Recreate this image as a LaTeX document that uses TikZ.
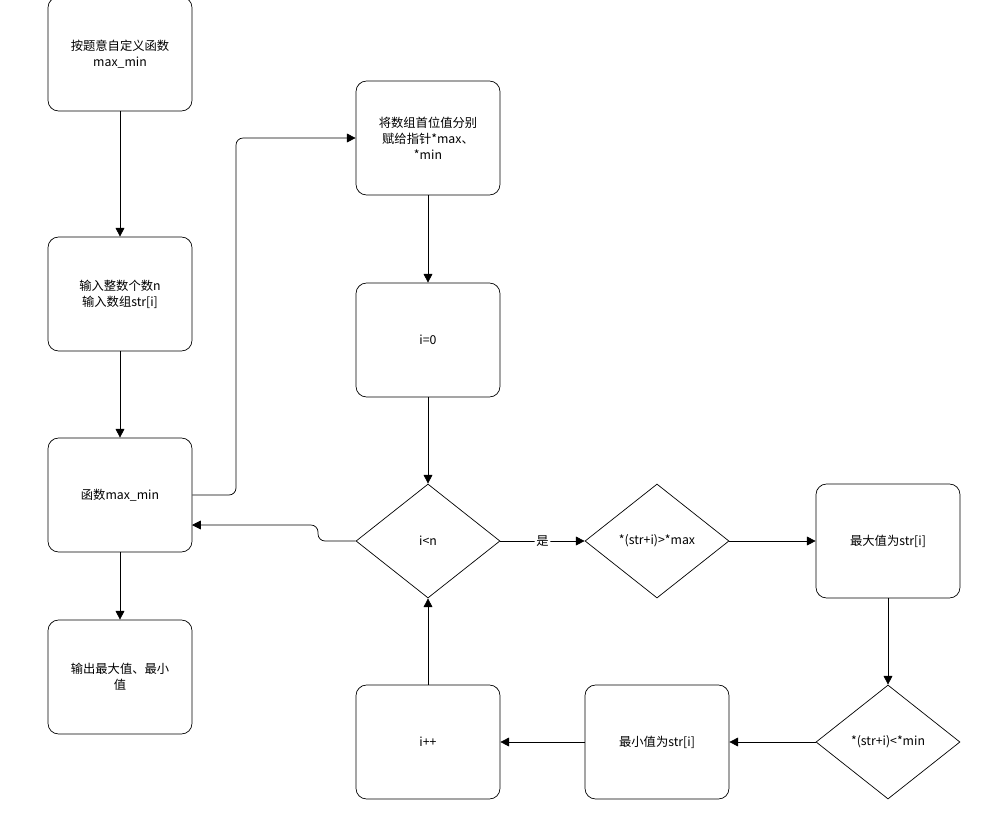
\documentclass[tikz,border=0pt]{standalone}
\usepackage{fontspec}
\setmainfont{Noto Sans CJK SC}
\usetikzlibrary{shapes.geometric}
\usetikzlibrary{positioning}
\usetikzlibrary{arrows.meta}

\begin{document}
\begin{tikzpicture}[
    x=0.02cm, y=-0.02cm,
    boxnode/.style={draw, rounded corners=6pt, minimum width=2.88cm, minimum height=2.28cm, align=center, font=\fontsize{7}{9}\selectfont},
    decnode/.style={draw, diamond, minimum width=2.88cm, minimum height=2.28cm, inner sep=0pt, align=center, font=\fontsize{7}{9}\selectfont},
    arrow/.style={-{Triangle[length=5pt,width=5pt]}, rounded corners=4pt}
]
    \useasboundingbox (0,0) rectangle (994,815);
    % Left column
    \node at (120, 54) [boxnode](define){按题意自定义函数\\max\_min};
    \node at (120, 294) [boxnode](input){输入整数个数n\\输入数组str[i]};
    \node at (120, 495) [boxnode](func){函数max\_min};
    \node at (120, 677) [boxnode](output){输出最大值、最小\\值};
    % Middle column
    \node at (428, 138) [boxnode](assign){将数组首位值分别\\赋给指针*max、\\*min};
    \node at (428, 340) [boxnode](init){i=0};
    \node at (428, 541) [decnode](loop){i<n};
    \node at (428, 742) [boxnode](incr){i++};
    % Right part
    \node at (657, 541) [decnode](testmax){*(str+i)>*max};
    \node at (888, 541) [boxnode](setmax){最大值为str[i]};
    \node at (888, 742) [decnode](testmin){*(str+i)<*min};
    \node at (657, 742) [boxnode](setmin){最小值为str[i]};
    % Connectors
    \draw [arrow] (define) -- (input);
    \draw [arrow] (input) -- (func);
    \draw [arrow] (func) -- (output);
    \coordinate (up_1) at (236, 495);
    \coordinate (up_2) at (236, 138);
    \draw [arrow] (func.east) -- (up_1) -- (up_2) -- (assign.west);
    \draw [arrow] (assign) -- (init);
    \draw [arrow] (init) -- (loop);
    \coordinate (back_1) at (318, 541);
    \coordinate (back_2) at (318, 525);
    \coordinate (back_3) at (192, 525);
    \draw [arrow] (loop.west) -- (back_1) -- (back_2) -- (back_3);
    \draw [arrow] (loop) -- node[fill=white, inner sep=1pt, font=\fontsize{7}{9}\selectfont]{是} (testmax);
    \draw [arrow] (testmax) -- (setmax);
    \draw [arrow] (setmax) -- (testmin);
    \draw [arrow] (testmin) -- (setmin);
    \draw [arrow] (setmin) -- (incr);
    \draw [arrow] (incr) -- (loop);
\end{tikzpicture}
\end{document}
